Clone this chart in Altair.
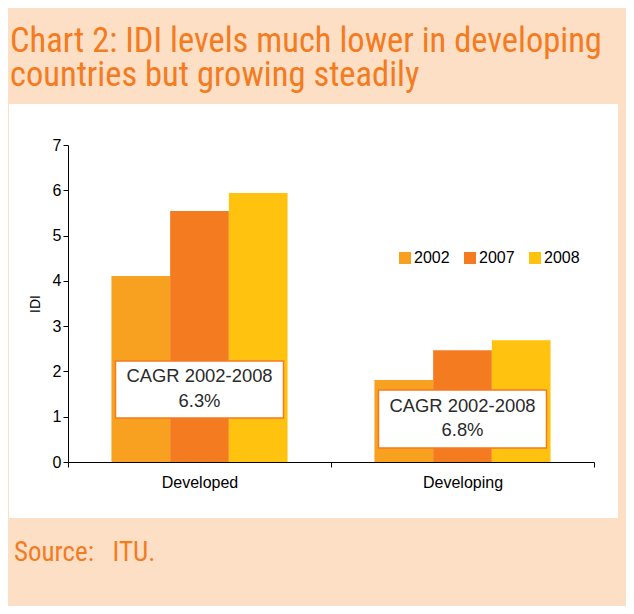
import altair as alt
import pandas as pd

# ---- data ----
regions = ["Developed", "Developing"]
years = ["2002", "2007", "2008"]
idi_developed = [4.11, 5.54, 5.94]
idi_developing = [1.81, 2.47, 2.69]
cagr_values = ["6.3%", "6.8%"]
y_ticks = [0, 1, 2, 3, 4, 5, 6, 7]

title_lines = ["Chart 2: IDI levels much lower in developing", "countries but growing steadily"]
source_text = "Source:\u00a0\u00a0 ITU."

rows = []
for r, vals in zip(regions, [idi_developed, idi_developing]):
    for yr, v in zip(years, vals):
        rows.append({"Region": r, "Year": yr, "IDI": v})
bars_df = pd.DataFrame(rows)

# annotation box placement (in IDI units)
box_top = [2.23, 1.59]
box_bottom = [0.97, 0.31]
text_first_line = [1.89, 1.24]
ann_df = pd.DataFrame({
    "Region": regions,
    "label": ["CAGR 2002-2008\n" + c for c in cagr_values],
    "top": box_top,
    "bottom": box_bottom,
    "mid": text_first_line,
})

colors = ["#F8A01F", "#F47B20", "#FFC20E"]
orange = "#F47B20"
peach = "#FDDFC6"
W, H = 526, 317
cond_font = "Roboto Condensed, Liberation Sans Narrow, DejaVu Sans Condensed, Liberation Sans"

x_enc = alt.X(
    "Region:N", sort=regions,
    scale=alt.Scale(paddingInner=0, paddingOuter=0),
    axis=alt.Axis(title=None, labelAngle=0, tickBand="extent", labelPadding=7,
                  tickSize=5, labelFontSize=16, zindex=2),
)
y_axis = alt.Axis(values=y_ticks, title="IDI", grid=False, tickSize=5,
                  labelPadding=2, titlePadding=10, labelFontSize=16, zindex=2)
y_scale = alt.Scale(domain=[0, 7], nice=False)

one = alt.Data(values=[{}])

panel = alt.Chart(one).mark_rect(fill="white").encode(
    x=alt.value(-59), x2=alt.value(550), y=alt.value(-41), y2=alt.value(373)
)

bars = alt.Chart(bars_df).mark_bar().encode(
    x=x_enc,
    xOffset=alt.XOffset("Year:N", sort=years,
                        scale=alt.Scale(paddingInner=0, paddingOuter=0.74)),
    y=alt.Y("IDI:Q", scale=y_scale, axis=y_axis),
    color=alt.Color("Year:N", sort=years,
                    scale=alt.Scale(domain=years, range=colors),
                    legend=alt.Legend(title=None, orient="none", legendX=329, legendY=105,
                                      direction="horizontal", symbolType="square",
                                      symbolSize=144, symbolStrokeWidth=0,
                                      labelFontSize=16, labelOffset=1,
                                      columnPadding=12, padding=0,
                                      labelFont="Liberation Sans", labelColor="#000")),
)

boxes = alt.Chart(ann_df).mark_bar(width=168, fill="white", stroke=orange, strokeWidth=1.5).encode(
    x=x_enc,
    y=alt.Y("top:Q", scale=y_scale, axis=y_axis),
    y2="bottom:Q",
)

box_text = alt.Chart(ann_df).mark_text(
    lineBreak="\n", fontSize=18.4, lineHeight=24.5, baseline="middle", align="center",
    font="Liberation Sans", color="#2b2b2b",
).encode(
    x=x_enc,
    y=alt.Y("mid:Q", scale=y_scale, axis=y_axis),
    text="label:N",
)

title = alt.Chart(one).mark_text(
    align="left", baseline="alphabetic", fontSize=34.5, lineHeight=34,
    font=cond_font, color=orange,
).encode(x=alt.value(-58), y=alt.value(-93), text=alt.value(title_lines))

source = alt.Chart(one).mark_text(
    align="left", baseline="alphabetic", fontSize=27,
    font=cond_font, color=orange,
).encode(x=alt.value(-54), y=alt.value(416), text=alt.value(source_text))

chart = alt.layer(panel, bars, boxes, box_text, title, source).properties(
    width=W, height=H,
    autosize=alt.AutoSizeParams(type="none"),
    padding={"left": 60, "top": 137, "right": 32, "bottom": 144},
    background=peach,
).configure_view(stroke=None).configure_axis(
    domainColor="#000", tickColor="#000", labelColor="#000",
    labelFont="Liberation Sans", titleFont="Liberation Sans",
    titleFontSize=14, titleFontWeight="normal", titleColor="#000",
)

chart.save("out.html", embed_options={"renderer": "svg", "actions": False})
